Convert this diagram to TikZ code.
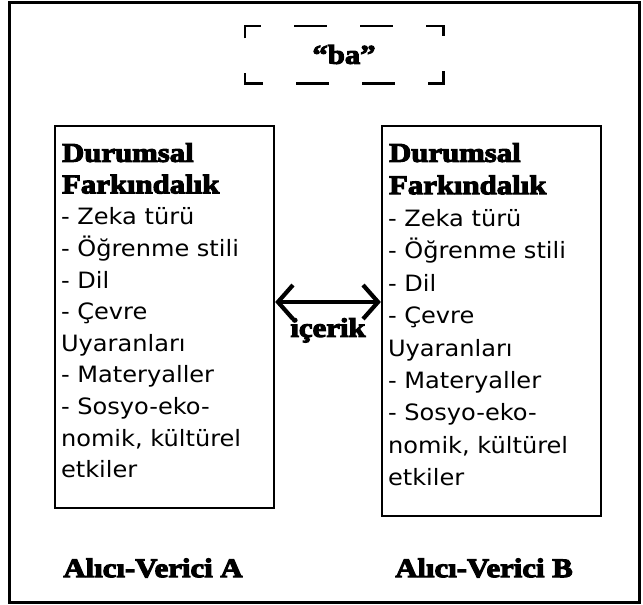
\documentclass[tikz,border=0pt]{standalone}
\usepackage{fontspec}
\setmainfont{DejaVu Sans}[FakeStretch=1.07]
\newfontfamily\headfont{Liberation Serif}[FakeStretch=1.14,BoldFeatures={FakeBold=4}]
\usetikzlibrary{arrows.meta,positioning}
\tikzset{
	kutu/.style={draw, line width=2.3pt, inner sep=0pt},
	liste/.style={anchor=north west, inner sep=0pt, align=left, font=\fontsize{22.5}{31.6}\selectfont},
	baslik/.style={inner sep=0pt, font=\headfont\bfseries\fontsize{27}{32}\selectfont},
}
\newcommand{\hd}[1]{\hspace*{1pt}{\headfont\bfseries\fontsize{27}{31.6}\selectfont #1}}
\begin{document}
\begin{tikzpicture}[x=1pt, y=-1pt, line join=miter, >={Straight Barb[length=15pt,width=34pt]}]
	\useasboundingbox (0,0) rectangle (643,605);
	\draw[line width=2.3pt] (9.5,2.5) rectangle (639.5,602.5);
	
	% "ba" kutusu
	\node[baslik, minimum width=198pt, minimum height=57pt] (ba) at (344,54.5) {“ba”};
	\draw[line width=2.6pt, dash pattern=on 27.5pt off 33pt on 33pt off 33pt on 33pt off 33pt on 27.5pt off 35pt on 27.5pt off 33pt on 33pt off 33pt on 33pt off 33pt on 27.5pt off 35pt]
	([yshift=-11pt]ba.north west) -- (ba.north west) -- (ba.north east) -- (ba.south east) -- (ba.south west) -- cycle;
	
	\node[kutu, minimum width=219pt, minimum height=382pt] (boxA) at (164.5,317) {};
	\node[kutu, minimum width=219pt, minimum height=390pt] (boxB) at (491.5,321) {};
	
	\node[liste] (txtA) at ([xshift=7pt,yshift=-18pt]boxA.north west)
	{\hd{Durumsal}\\\hd{Farkındalık}\\- Zeka türü\\- Öğrenme stili\\- Dil\\- Çevre\\Uyaranları\\- Materyaller\\- Sosyo-eko-\\nomik, kültürel\\etkiler};
	\node[liste, font=\fontsize{22.5}{32.4}\selectfont] (txtB) at ([xshift=7pt,yshift=-18pt]boxB.north west)
	{\hd{Durumsal}\\\hd{Farkındalık}\\- Zeka türü\\- Öğrenme stili\\- Dil\\- Çevre\\Uyaranları\\- Materyaller\\- Sosyo-eko-\\nomik, kültürel\\etkiler};
	
	\coordinate (orta) at (328,302);
	\draw[<->, line width=4.2pt] (boxA.east |- orta) -- (boxB.west |- orta);
	\node[baslik, below=16pt of orta] (icerik) {içerik};
	
	\node[baslik] (lblA) at (153,568) {Alıcı-Verici A};
	\node[baslik] (lblB) at (484,568) {Alıcı-Verici B};
\end{tikzpicture}
\end{document}
